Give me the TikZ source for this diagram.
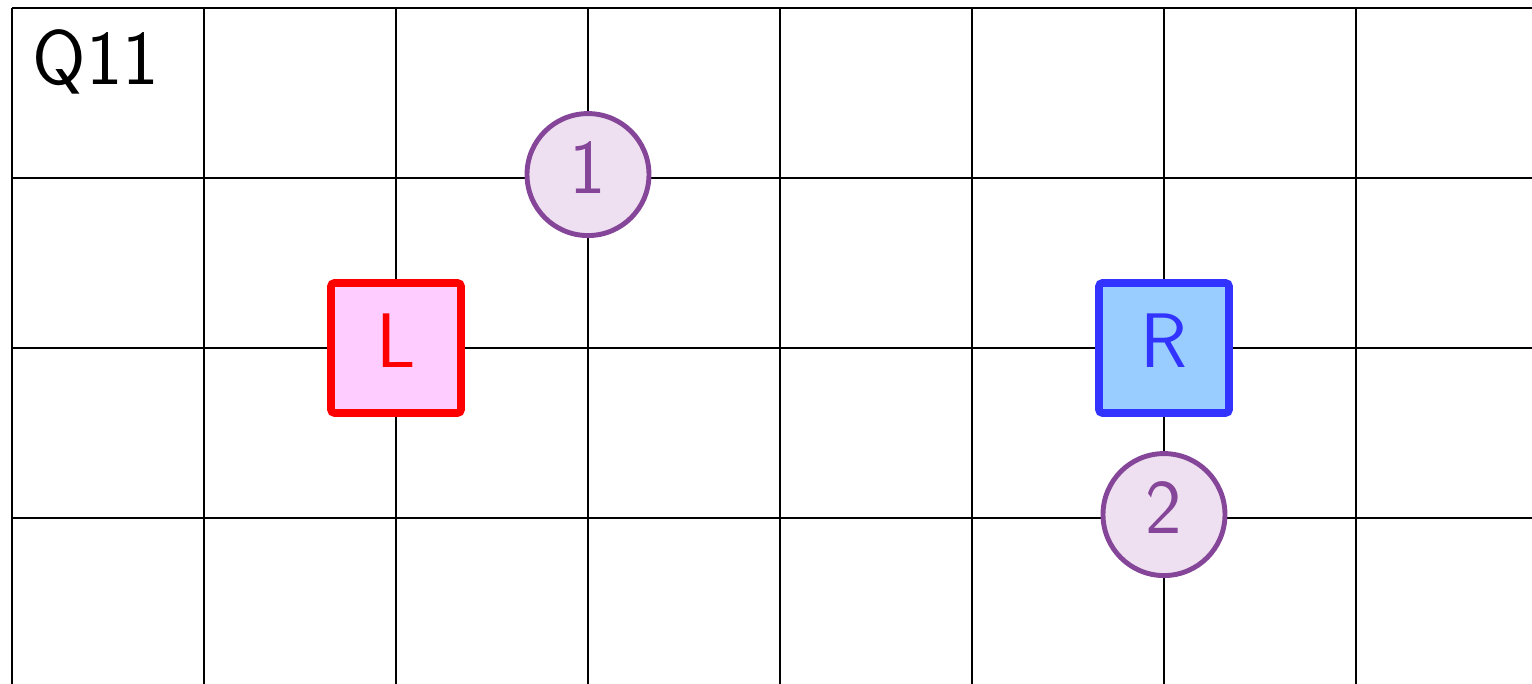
\documentclass[tikz,border=0pt]{standalone}
\definecolor{MarkPurple}{RGB}{133,70,153}
\definecolor{MarkLilac}{RGB}{238,224,240}
\definecolor{LeftRed}{RGB}{255,0,0}
\definecolor{LeftPink}{RGB}{255,204,255}
\definecolor{RightBlue}{RGB}{51,51,255}
\definecolor{RightSky}{RGB}{153,204,255}
\usepackage{tikz}
\usetikzlibrary{positioning}
\tikzset{
  lbl/.style={font=\sffamily\fontsize{22}{26}\selectfont,inner sep=0pt},
}
\begin{document}
\begin{tikzpicture}[x=1.92cm,y=1.7cm,
       sq/.style={draw,line width=2.2pt,rounded corners=1pt,minimum size=1.3cm,inner sep=0pt,text depth=0.14cm,lbl},
       mk/.style={circle,draw=MarkPurple,fill=MarkLilac,text=MarkPurple,line width=1.4pt,minimum size=1.22cm,inner sep=0pt,text depth=0.14cm,lbl}]
      \useasboundingbox (-0.0625,0.047) rectangle (7.9167,-3.976);
      \clip (-0.0625,0.047) rectangle (7.9167,-3.976);
      \foreach \c in {0,...,8} { \draw[line width=0.8pt] (\c,0) -- (\c,-4.5); }
      \foreach \r in {0,...,4} { \draw[line width=0.8pt] (0,-\r) -- (8.5,-\r); }
      \node[lbl,anchor=base west] (title) at (0.105,-0.453) {Q11};
      \node[sq,draw=LeftRed,fill=LeftPink,text=LeftRed] (left) at (2,-2) {L};
      \node[sq,draw=RightBlue,fill=RightSky,text=RightBlue] (right) at (6,-2) {R};
      \node[mk] (one) at (3,-0.98) {1};
      \node[mk] (two) at (6,-2.98) {2};
    \end{tikzpicture}
\end{document}
